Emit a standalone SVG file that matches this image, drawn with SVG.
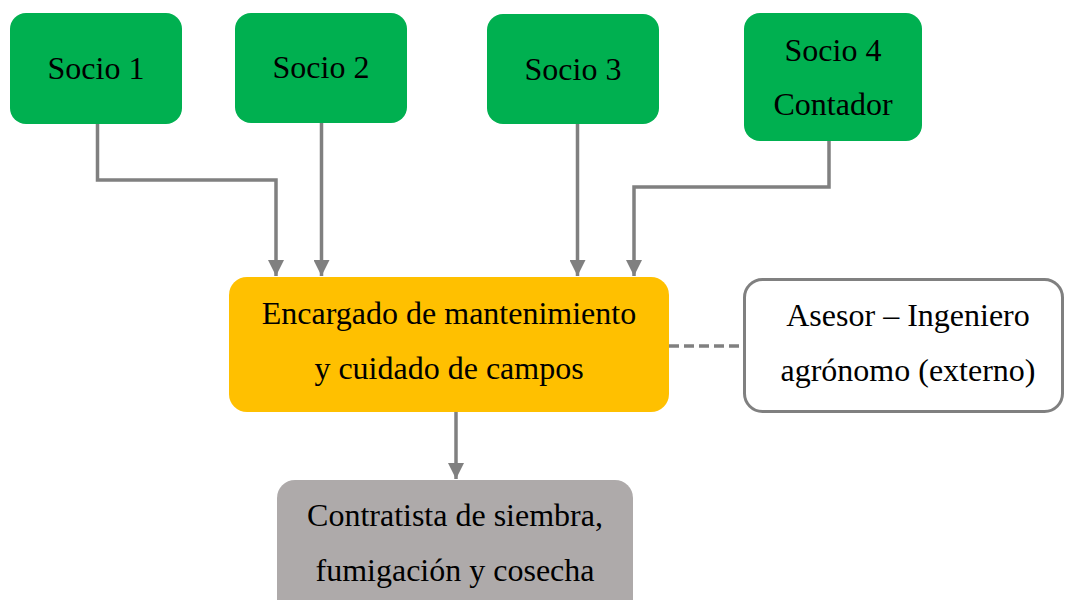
<svg xmlns="http://www.w3.org/2000/svg" width="1065" height="600" viewBox="0 0 1065 600">
<style>
.t{font-family:"Liberation Serif","Times New Roman",serif;font-size:32px;fill:#000;text-anchor:middle}
.g{fill:#00B050}
.c{fill:none;stroke:#808080;stroke-width:3.5}
</style>
<defs>
<marker id="ah" markerUnits="userSpaceOnUse" markerWidth="16" markerHeight="16" refX="16" refY="8" orient="auto">
<path d="M0,0 L16,8 L0,16 Z" fill="#808080"/>
</marker>
</defs>
<rect width="1065" height="600" fill="#fff"/>
<g id="connectors">
<polyline class="c" points="97.5,124 97.5,180 276,180 276,276" marker-end="url(#ah)"/>
<line class="c" x1="321.5" y1="123" x2="321.5" y2="276" marker-end="url(#ah)"/>
<line class="c" x1="577.5" y1="124" x2="577.5" y2="276" marker-end="url(#ah)"/>
<polyline class="c" points="829,141 829,187 634,187 634,276" marker-end="url(#ah)"/>
<line class="c" x1="669" y1="346" x2="743" y2="346" stroke-dasharray="10,5"/>
<line class="c" x1="456" y1="412" x2="456" y2="479" marker-end="url(#ah)"/>
</g>
<g id="socio1"><rect class="g" x="10" y="13" width="172" height="111" rx="16"/><text class="t" x="96" y="79">Socio 1</text></g>
<g id="socio2"><rect class="g" x="235" y="13" width="172" height="110" rx="16"/><text class="t" x="321" y="78">Socio 2</text></g>
<g id="socio3"><rect class="g" x="487" y="14" width="172" height="110" rx="16"/><text class="t" x="573" y="80">Socio 3</text></g>
<g id="socio4"><rect class="g" x="744" y="13" width="178" height="128" rx="16"/><text class="t" x="833" y="61">Socio 4</text><text class="t" x="833" y="115">Contador</text></g>
<g id="encargado"><rect x="229" y="277" width="440" height="135" rx="18" fill="#FFC000"/><text class="t" x="449" y="324">Encargado de mantenimiento</text><text class="t" x="449" y="379">y cuidado de campos</text></g>
<g id="asesor"><rect x="744.5" y="279.5" width="318" height="132" rx="18" fill="#fff" stroke="#808080" stroke-width="3"/><text class="t" x="908" y="326">Asesor – Ingeniero</text><text class="t" x="908" y="381">agrónomo (externo)</text></g>
<g id="contratista"><rect x="277" y="480" width="356" height="140" rx="18" fill="#AEAAAA"/><text class="t" x="455" y="526">Contratista de siembra,</text><text class="t" x="455" y="581">fumigación y cosecha</text></g>
</svg>
